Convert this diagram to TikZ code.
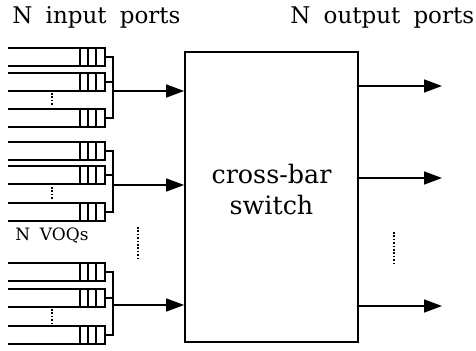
\documentclass[tikz,border=0pt]{standalone}
\usepackage{fontspec}
\setmainfont{DejaVu Serif}[WordSpace=1.8]
\usetikzlibrary{arrows.meta,positioning,calc}
\tikzset{
  ln/.style={line width=0.8pt, color=black},
  voq/.style={rectangle, draw=none, inner sep=0pt, outer sep=0pt,
              minimum width=48.5pt, minimum height=9pt},
  switchbox/.style={draw, line width=0.9pt, rectangle, inner sep=0pt,
                    minimum width=86.5pt, minimum height=145pt},
  titletxt/.style={inner sep=0pt, anchor=base west, font=\fontsize{11.5}{13}\selectfont},
  smalltxt/.style={inner sep=0pt, anchor=base west, font=\fontsize{8.5}{10}\selectfont},
  vdots/.style={line width=0.8pt, dash pattern=on 0.8pt off 0.9pt},
  arr/.style={-{Triangle[length=9pt, width=6.5pt]}, line width=0.8pt}}

\begin{document}
\begin{tikzpicture}[x=0.5pt, y=-0.5pt]
    \useasboundingbox (0,0) rectangle (476,351);
    % titles
    \node[titletxt] (inlbl) at (12,24) {N input ports};
    \node[titletxt] (outlbl) at (290,24) {N output ports};
    \node[smalltxt] (voqlbl) at (15,241) {N VOQs};
    % switch fabric
    \node[switchbox,
      label={[name=xbartxt, yshift=3.5pt, align=center,
              font=\fontsize{12.7}{15.5}\selectfont]center:cross-bar\\switch}]
      (xbar) at (271.5,197) {};
    % the virtual output queues
    \foreach \n/\y in {a1/57, a2/82, a3/118, b1/151, b2/175, b3/212, c1/272, c2/298, c3/335}
      \node[voq] (q\n) at (56.5,\y) {};
    \foreach \n in {a1,a2,a3,b1,b2,b3,c1,c2,c3} {
      \draw[ln] (q\n.north west) -- (q\n.north east) -- (q\n.south east) -- (q\n.south west);
      \foreach \d in {4.5,8.5,12.5}
        \draw[ln] ([xshift=-\d pt]q\n.north east) -- ([xshift=-\d pt]q\n.south east);
    }
    \draw[vdots] (52,93) -- (52,106);
    \draw[vdots] (52,187) -- (52,200);
    \draw[vdots] (52,309) -- (52,323);
    % joins and inputs
    \coordinate (ja) at (113,91);
    \coordinate (jb) at (113,185);
    \coordinate (jc) at (113,305);
    \foreach \g in {a,b,c} {
      \draw[ln] (q\g1.east) -| (j\g);
      \draw[ln] (q\g3.east) -| (j\g);
      \draw[ln] (q\g2.east) -- (q\g2.east -| j\g);
      \draw[arr] (j\g) -- (xbar.west |- j\g);
    }
    \draw[vdots] (138,227) -- (138,260);
    % outputs
    \coordinate (oa) at (442,86);
    \coordinate (ob) at (442,178);
    \coordinate (oc) at (442,306);
    \draw[arr] (xbar.east |- oa) -- (oa);
    \draw[arr] (xbar.east |- ob) -- (ob);
    \draw[arr] (xbar.east |- oc) -- (oc);
    \draw[vdots] (394,232) -- (394,263);
  \end{tikzpicture}
\end{document}
